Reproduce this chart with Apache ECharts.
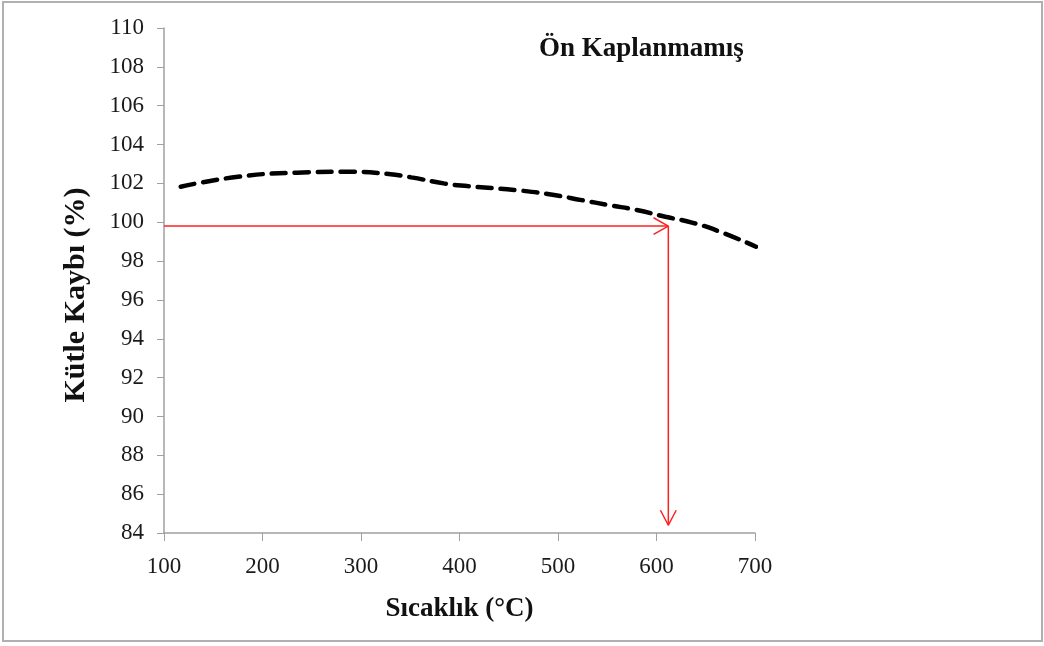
<!DOCTYPE html>
<html>
<head>
<meta charset="utf-8">
<script src="https://cdn.jsdelivr.net/npm/echarts@6/dist/echarts.min.js"></script>
<style>
html,body{margin:0;padding:0;background:#fff;}
#chart{width:1044px;height:646px;}
</style>
</head>
<body>
<div id="chart"></div>
<script>
// sicaklik (x) ve kutle (y) degerleri
var sicaklik = [117, 175, 235, 291, 328, 351, 384, 408, 464, 496, 524, 552, 580, 609, 637, 665, 701];
var kutle = [101.83, 102.34, 102.55, 102.6, 102.48, 102.31, 102.0, 101.86, 101.62, 101.4, 101.14, 100.88, 100.63, 100.28, 99.97, 99.5, 98.74];

// kirmizi oklar
var okYatayX = [100, 612];
var okYatayY = [99.8, 99.8];
var okYatayUcX = [597, 612, 597];
var okYatayUcY = [100.23, 99.8, 99.37];
var okDikeyX = [612, 612];
var okDikeyY = [99.8, 84.4];
var okDikeyUcX = [604, 612, 620];
var okDikeyUcY = [85.17, 84.4, 85.17];

var yTicks = [84, 110, 2];
var xTicks = [100, 700, 100];

function pairs(xs, ys){
	var out = [];
	for (var i = 0; i < xs.length; i++) out.push([xs[i], ys[i]]);
	return out;
}

var chart = echarts.init(document.getElementById('chart'));
var font = '"Liberation Serif", "Times New Roman", serif';
var red = '#ff2020';

function redLine(d){
	return {
		type:'line', data:d, symbol:'none', silent:true, z:3,
		lineStyle:{color:red, width:1.5}
	};
}

var option = {
	backgroundColor:'#fff',
	animation:false,
	title:{
		text:'Ön Kaplanmamış',
		left:534, top:31,
		textStyle:{fontFamily:font, fontSize:27, fontWeight:'bold', color:'#111'}
	},
	graphic:[{
		type:'rect',
		shape:{x:3, y:2, width:1039, height:639},
		style:{fill:null, stroke:'#b0b0b0', lineWidth:2},
		silent:true
	},{
		type:'text',
		x:76, y:295, rotation:Math.PI/2,
		style:{
			text:'Kütle Kaybı (%)', font:'bold 30px ' + font, fill:'#111',
			align:'center', verticalAlign:'middle'
		}
	}],
	grid:{left:164, right:289, top:28, bottom:113},
	xAxis:{
		type:'value', min:xTicks[0], max:xTicks[1], interval:xTicks[2],
		name:'Sıcaklık (°C)', nameLocation:'middle', nameGap:63,
		nameTextStyle:{fontFamily:font, fontSize:27, fontWeight:'bold', color:'#111'},
		axisLine:{lineStyle:{color:'#a0a0a0', width:1.5}},
		axisTick:{show:true, length:8, lineStyle:{color:'#a0a0a0'}},
		axisLabel:{fontFamily:font, fontSize:23, color:'#1a1a1a', margin:22},
		splitLine:{show:false}
	},
	yAxis:{
		type:'value', min:yTicks[0], max:yTicks[1], interval:yTicks[2],
		axisLine:{show:true, lineStyle:{color:'#a0a0a0', width:1.5}},
		axisTick:{show:true, length:7, lineStyle:{color:'#a0a0a0'}},
		axisLabel:{fontFamily:font, fontSize:23, color:'#1a1a1a', margin:20},
		splitLine:{show:false}
	},
	series:[
		{
			type:'line', data:pairs(sicaklik, kutle), smooth:true, symbol:'none', z:2,
			lineStyle:{color:'#000', width:4.5, type:[14, 9], cap:'round'}
		},
		redLine(pairs(okYatayX, okYatayY)),
		redLine(pairs(okYatayUcX, okYatayUcY)),
		redLine(pairs(okDikeyX, okDikeyY)),
		redLine(pairs(okDikeyUcX, okDikeyUcY))
	]
};
chart.setOption(option);
</script>
</body>
</html>
